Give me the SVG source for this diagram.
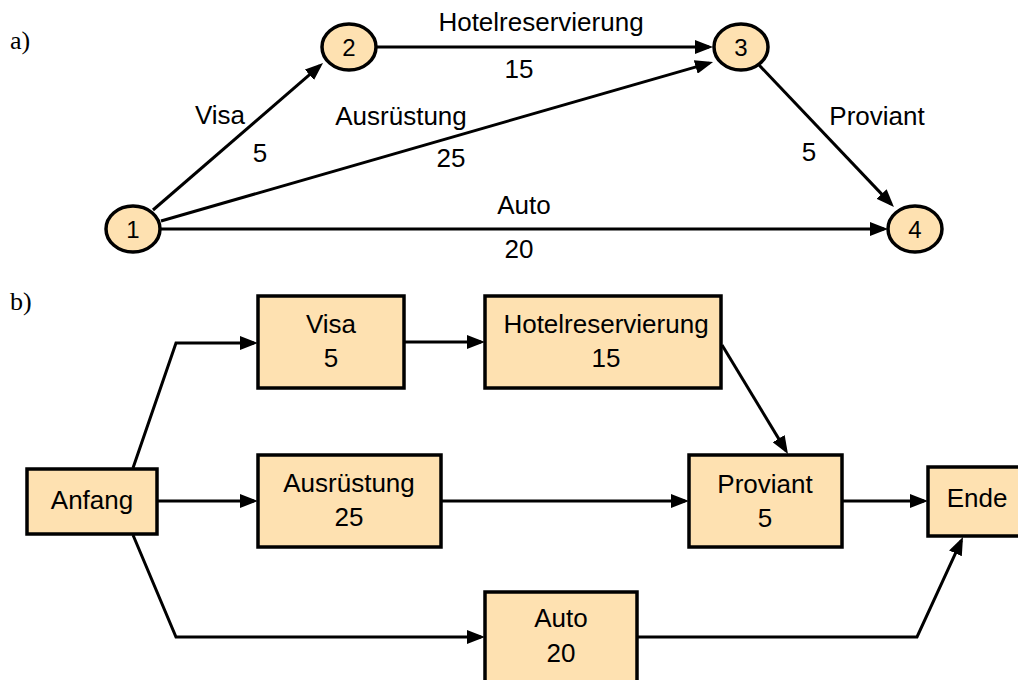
<svg xmlns="http://www.w3.org/2000/svg" width="1018" height="680" viewBox="0 0 1018 680">
  <style>
    .lbl { font-family: "Liberation Sans", Arial, sans-serif; font-size: 26px; fill: #000; text-anchor: middle; }
    .num { font-family: "Liberation Sans", Arial, sans-serif; font-size: 24px; fill: #000; text-anchor: middle; }
    .tag { font-family: "Liberation Serif", "Times New Roman", serif; font-size: 26px; fill: #000; }
    .node { fill: #FEE1B1; stroke: #000; stroke-width: 3.5; }
    .edge { fill: none; stroke: #000; stroke-width: 3; marker-end: url(#arrow); }
  </style>
  <defs>
    <marker id="arrow" markerUnits="userSpaceOnUse" markerWidth="18" markerHeight="14" refX="14" refY="7" orient="auto">
      <path d="M0,0 L18,7 L0,14 z" fill="#000"/>
    </marker>
  </defs>
  <rect width="1018" height="680" fill="#fff"/>

  <!-- part a: event network -->
  <text class="tag" x="10" y="49">a)</text>
  <g id="edges-a">
    <line class="edge" x1="153" y1="210" x2="320" y2="65.6"/>
    <line class="edge" x1="376" y1="47" x2="709" y2="47"/>
    <line class="edge" x1="161" y1="221" x2="709.2" y2="63.1"/>
    <line class="edge" x1="759" y1="65" x2="891.2" y2="204.1"/>
    <line class="edge" x1="161" y1="229" x2="884" y2="229"/>
    <text class="lbl" x="541" y="31">Hotelreservierung</text>
    <text class="lbl" x="519" y="78">15</text>
    <text class="lbl" x="220" y="124">Visa</text>
    <text class="lbl" x="260" y="162">5</text>
    <text class="lbl" x="401" y="125">Ausrüstung</text>
    <text class="lbl" x="451" y="167">25</text>
    <text class="lbl" x="877" y="125">Proviant</text>
    <text class="lbl" x="809" y="161">5</text>
    <text class="lbl" x="524" y="214">Auto</text>
    <text class="lbl" x="519" y="258">20</text>
  </g>
  <g id="ev1"><ellipse class="node" cx="133" cy="229" rx="27" ry="23"/><text class="num" x="133" y="237.5">1</text></g>
  <g id="ev2"><ellipse class="node" cx="349" cy="47" rx="27" ry="23"/><text class="num" x="349" y="55.5">2</text></g>
  <g id="ev3"><ellipse class="node" cx="741" cy="47" rx="27" ry="23"/><text class="num" x="741" y="55.5">3</text></g>
  <g id="ev4"><ellipse class="node" cx="915" cy="229" rx="27" ry="23"/><text class="num" x="915" y="237.5">4</text></g>

  <!-- part b: activity network -->
  <text class="tag" x="10" y="310">b)</text>
  <g id="edges-b">
    <polyline class="edge" points="133,468 176,343 254,343"/>
    <line class="edge" x1="157" y1="501" x2="254" y2="501"/>
    <polyline class="edge" points="133,535 176,637 481,637"/>
    <line class="edge" x1="404" y1="342" x2="481" y2="342"/>
    <line class="edge" x1="722" y1="345" x2="785.9" y2="450.6"/>
    <line class="edge" x1="441" y1="501" x2="685" y2="501"/>
    <line class="edge" x1="842" y1="501" x2="924" y2="501"/>
    <polyline class="edge" points="637,637 917,637 961.3,540.6"/>
  </g>
  <g id="anfang"><rect class="node" x="27" y="469" width="130" height="65"/><text class="lbl" x="92" y="509">Anfang</text></g>
  <g id="visa"><rect class="node" x="258" y="296" width="146" height="92"/><text class="lbl" x="331" y="333">Visa</text><text class="lbl" x="331" y="367">5</text></g>
  <g id="hotel"><rect class="node" x="485" y="296" width="236" height="92"/><text class="lbl" x="606" y="333">Hotelreservierung</text><text class="lbl" x="606" y="367">15</text></g>
  <g id="ausruestung"><rect class="node" x="258" y="455" width="183" height="92"/><text class="lbl" x="349" y="492">Ausrüstung</text><text class="lbl" x="349" y="526">25</text></g>
  <g id="proviant"><rect class="node" x="689" y="455" width="153" height="92"/><text class="lbl" x="765" y="493">Proviant</text><text class="lbl" x="765" y="527">5</text></g>
  <g id="ende"><rect class="node" x="928" y="467" width="100" height="69"/><text class="lbl" x="977" y="507">Ende</text></g>
  <g id="auto"><rect class="node" x="485" y="592" width="152" height="100"/><text class="lbl" x="561" y="627">Auto</text><text class="lbl" x="561" y="662">20</text></g>
</svg>
